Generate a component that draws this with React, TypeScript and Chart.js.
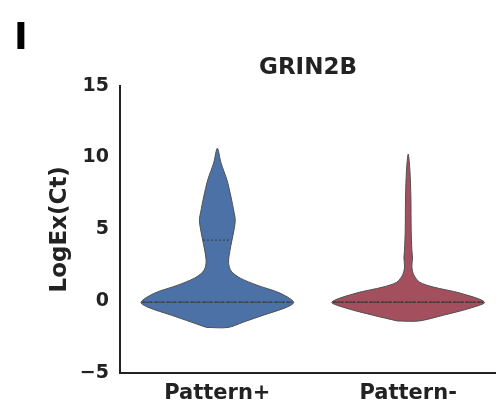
import React, { useEffect, useRef } from "react";
import { Chart, registerables } from "chart.js";

Chart.register(...registerables);

// ---- data ----
const categories = ["Pattern+", "Pattern-"];
const yTicks = [-5, 0, 5, 10, 15];
const chartTitle = "GRIN2B";
const yTitle = "LogEx(Ct)";
const panelLetter = "I";

// Pattern+ violin: KDE levels (bottom -> top) and relative density
const plusLevels = [-1.83, -1.46, -0.98, -0.42, -0.07, 0.56, 1.11, 1.6, 2.02, 2.37, 2.86, 3.55, 4.25, 4.95, 5.64, 6.2, 7.25, 8.43, 9.62, 10.64];
const plusDensity = [0.14, 0.34, 0.6, 0.91, 1.0, 0.82, 0.52, 0.3, 0.192, 0.156, 0.147, 0.166, 0.192, 0.218, 0.235, 0.218, 0.179, 0.126, 0.048, 0];
const plusQuartiles = [-0.07, -0.07, 4.25]; // q1, median, q3

// Pattern- violin
const minusLevels = [-1.38, -0.98, -0.49, -0.07, 0.56, 0.98, 1.32, 1.81, 2.37, 3.0, 3.55, 4.95, 7.25, 9.13, 10.24];
const minusDensity = [0.14, 0.46, 0.81, 1.0, 0.68, 0.33, 0.15, 0.075, 0.048, 0.056, 0.048, 0.039, 0.035, 0.022, 0];
const minusQuartiles = [-0.07, -0.07, -0.07];

// ---- styles ----
const HALF = 0.4;
const BLUE = "#4b71a6";
const RED = "#a44f5e";
const EDGE = "#505050";
const TEXT = "#222222";
const FONT = "'DejaVu Sans', sans-serif";

function outline(center: number, levels: number[], dens: number[]) {
  const left = levels.map((y, i) => ({ x: center - HALF * dens[i], y }));
  const right: { x: number; y: number }[] = [];
  for (let i = levels.length - 2; i >= 0; i--) {
    right.push({ x: center + HALF * dens[i], y: levels[i] });
  }
  return [...left, ...right, left[0]];
}

function widthAt(q: number, levels: number[], dens: number[]) {
  for (let i = 0; i < levels.length - 1; i++) {
    if (q >= levels[i] && q <= levels[i + 1]) {
      const t = (q - levels[i]) / (levels[i + 1] - levels[i]);
      return dens[i] + t * (dens[i + 1] - dens[i]);
    }
  }
  return 0;
}

function quartileLine(center: number, q: number, levels: number[], dens: number[], dash: number[]) {
  const w = HALF * widthAt(q, levels, dens) * 0.98;
  return {
    type: "line" as const,
    order: 0,
    data: [
      { x: center - w, y: q },
      { x: center + w, y: q },
    ],
    borderColor: "#3a3a3a",
    borderWidth: 1,
    borderDash: dash,
    pointRadius: 0,
    showLine: true,
    fill: false,
    tension: 0,
  };
}

const letterPlugin = {
  id: "panelLetter",
  afterDraw(chart: any) {
    const ctx = chart.ctx;
    ctx.save();
    ctx.font = `bold 37px ${FONT}`;
    ctx.fillStyle = "#000";
    ctx.textBaseline = "alphabetic";
    ctx.textAlign = "left";
    ctx.fillText(panelLetter, 14, 49);
    ctx.restore();
  },
};

export default function App() {
  const ref = useRef<HTMLCanvasElement>(null);

  useEffect(() => {
    if (!ref.current) return;
    Chart.defaults.font.family = FONT;
    const violins = [
      { levels: plusLevels, dens: plusDensity, quart: plusQuartiles, color: BLUE },
      { levels: minusLevels, dens: minusDensity, quart: minusQuartiles, color: RED },
    ];
    const datasets: any[] = [];
    violins.forEach((v, i) => {
      datasets.push({
        type: "line",
        order: 1,
        data: outline(i, v.levels, v.dens),
        backgroundColor: v.color,
        borderColor: EDGE,
        borderWidth: 1,
        fill: "shape",
        tension: 0.3,
        pointRadius: 0,
        showLine: true,
      });
    });
    violins.forEach((v, i) => {
      datasets.push(quartileLine(i, v.quart[0], v.levels, v.dens, [2, 2]));
      datasets.push(quartileLine(i, v.quart[1], v.levels, v.dens, [4, 2]));
      datasets.push(quartileLine(i, v.quart[2], v.levels, v.dens, [2, 2]));
    });

    const chart = new Chart(ref.current, {
      type: "scatter",
      data: { datasets },
      plugins: [letterPlugin],
      options: {
        animation: false,
        responsive: false,
        layout: { padding: { left: 0, right: 0, top: 0, bottom: 0 } },
        plugins: {
          legend: { display: false },
          tooltip: { enabled: false },
          title: {
            display: true,
            text: chartTitle,
            fullSize: false,
            color: TEXT,
            font: { size: 23, weight: "bold", family: FONT },
            padding: { top: 54, bottom: 4 },
          },
        },
        scales: {
          x: {
            type: "linear",
            min: -0.51,
            max: 1.46,
            grid: { display: false, drawTicks: false },
            border: { display: true, width: 2, color: TEXT },
            afterBuildTicks: (scale: any) => {
              scale.ticks = categories.map((_, i) => ({ value: i }));
            },
            afterFit: (scale: any) => {
              scale.height = 37;
            },
            ticks: {
              padding: 8,
              color: TEXT,
              font: { size: 21, weight: "bold", family: FONT },
              callback: (v: any) => categories[v as number] ?? "",
            },
          },
          y: {
            min: -5,
            max: 15,
            grid: { display: false, drawTicks: false },
            border: { display: true, width: 2, color: TEXT },
            afterBuildTicks: (scale: any) => {
              scale.ticks = yTicks.map((v) => ({ value: v }));
            },
            afterFit: (scale: any) => {
              scale.width = 120;
            },
            ticks: {
              padding: 11,
              color: TEXT,
              font: { size: 19, weight: "bold", family: FONT },
              callback: (v: any) => (v < 0 ? "\u2212" + Math.abs(v) : String(v)),
            },
            title: {
              display: true,
              text: yTitle,
              color: TEXT,
              font: { size: 23, weight: "bold", family: FONT },
              padding: { top: 46, bottom: 0 },
            },
          },
        },
      },
    });
    return () => chart.destroy();
  }, []);

  return (
    <div style={{ position: "absolute", left: 0, top: 0, width: 496, height: 410 }}>
      <canvas ref={ref} width={496} height={410} />
    </div>
  );
}
